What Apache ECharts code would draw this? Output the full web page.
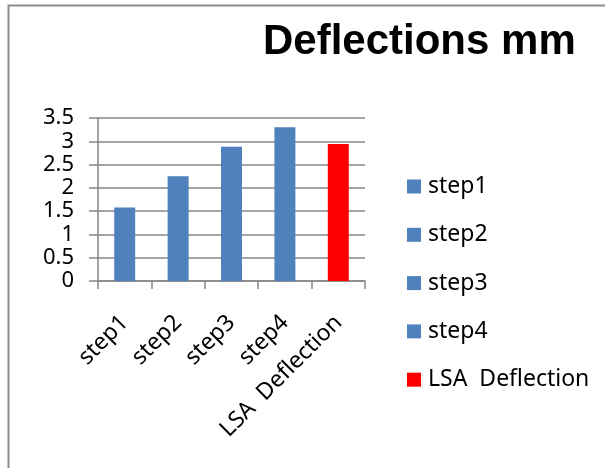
<!DOCTYPE html>
<html>
<head>
<meta charset="utf-8">
<script src="https://cdn.jsdelivr.net/npm/echarts@6/dist/echarts.min.js"></script>
<style>
html,body{margin:0;padding:0;background:#fff;}
#c{width:605px;height:468px;}
</style>
</head>
<body>
<div id="c"></div>
<script>
var categories = ['step1', 'step2', 'step3', 'step4', 'LSA  Deflection'];
var values = [1.58, 2.25, 2.88, 3.30, 2.94];
var colors = ['#4f81bd', '#4f81bd', '#4f81bd', '#4f81bd', '#ff0000'];
var yTicks = [0, 0.5, 1, 1.5, 2, 2.5, 3, 3.5];

var font = 'Noto Sans';
var series = categories.map(function (name, i) {
  var d = categories.map(function (c, j) { return j === i ? values[i] : '-'; });
  return {
    name: name,
    type: 'bar',
    data: d,
    barWidth: 21,
    barGap: '-100%',
    itemStyle: { color: colors[i] }
  };
});

var chart = echarts.init(document.getElementById('c'));
chart.setOption({
  animation: false,
  backgroundColor: '#fff',
  graphic: [{
    type: 'rect', silent: true,
    shape: { x: 8.5, y: 5.5, width: 800, height: 800 },
    style: { fill: 'none', stroke: '#8c8c8c', lineWidth: 2 }
  }],
  title: {
    text: 'Deflections mm',
    left: 258, top: 16,
    textStyle: { fontFamily: 'Liberation Sans', fontWeight: 'bold', fontSize: 42, color: '#000' }
  },
  grid: { left: 98, right: 240, top: 118, bottom: 187, containLabel: false },
  legend: {
    orient: 'vertical',
    left: 407, top: 175, padding: 0,
    itemWidth: 14, itemHeight: 14, itemGap: 25.3,
    icon: 'rect',
    data: categories,
    textStyle: { fontFamily: font, fontSize: 23, color: '#000', padding: [0, 0, 0, 2] }
  },
  xAxis: {
    type: 'category',
    data: categories,
    axisLine: { lineStyle: { color: '#868686', width: 1.5 } },
    axisTick: { show: true, length: 8, lineStyle: { color: '#868686', width: 1.5 } },
    axisLabel: { rotate: 45, interval: 0, margin: 38, fontFamily: font, fontSize: 23, color: '#000' }
  },
  yAxis: {
    type: 'value',
    min: yTicks[0], max: yTicks[yTicks.length - 1], interval: 0.5,
    axisLine: { show: true, lineStyle: { color: '#868686', width: 1.5 } },
    axisTick: { show: true, length: 9, lineStyle: { color: '#868686', width: 1.5 } },
    splitLine: { show: true, lineStyle: { color: '#868686', width: 1.5 } },
    axisLabel: { margin: 24, fontFamily: font, fontSize: 22, color: '#000' }
  },
  series: series
});
</script>
</body>
</html>
